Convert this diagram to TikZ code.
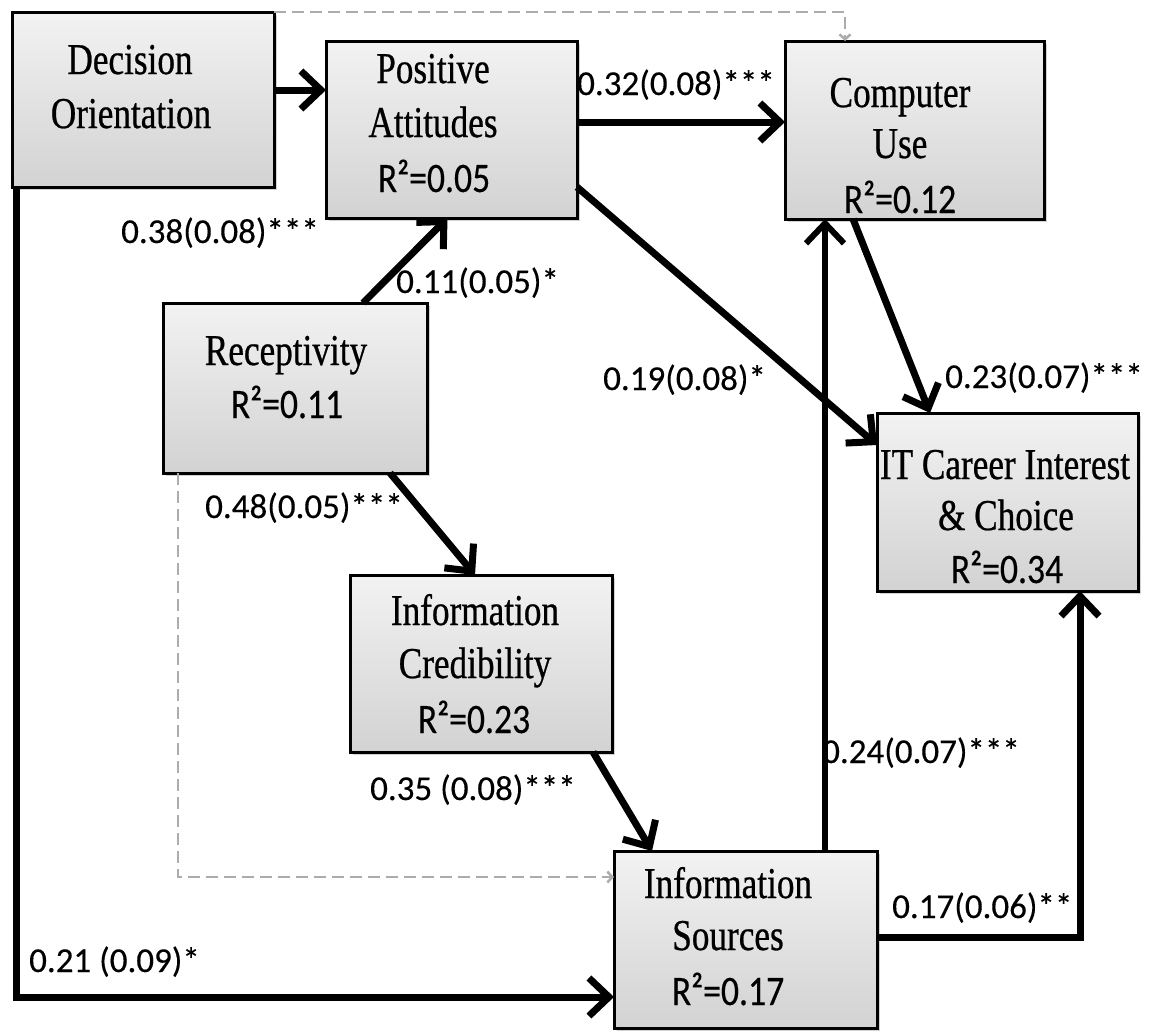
\documentclass[tikz,border=0pt]{standalone}
\usepackage{fontspec}
\newfontfamily\boxfont[FakeStretch=0.8,FakeBold=0.6]{Liberation Serif}
\newfontfamily\rsqfont[FakeStretch=0.85,FakeBold=0.3]{Carlito}
\newfontfamily\labfont[FakeBold=0.3]{Carlito}
\usetikzlibrary{arrows.meta,shadows}
\begin{document}
\begin{tikzpicture}[x=1pt,y=-1pt,
  box/.style={draw=black, line width=3pt, top color=gray!10, bottom color=gray!35,
    drop shadow={shadow xshift=3pt,shadow yshift=-3pt,opacity=0.35},
    inner sep=0pt, outer sep=0pt},
  ttl/.style={font=\boxfont\fontsize{44}{53}\selectfont, inner sep=0pt, anchor=base},
  rsq/.style={font=\rsqfont\fontsize{42}{50}\selectfont, inner sep=0pt, anchor=base},
  lab/.style={font=\labfont\fontsize{35}{42}\selectfont, inner sep=0pt, anchor=base west},
  arr/.style={line width=7pt, -{Straight Barb[length=20pt,width=38pt]}},
  darr/.style={draw=gray!65, line width=2.5pt, dash pattern=on 12pt off 6pt,
    -{Straight Barb[length=5pt,width=11pt]}}
]
\fill[white] (0,0) rectangle (1151,1034);
\useasboundingbox (0,0) rectangle (1151,1034);

% boxes
\node[box, minimum width=262pt, minimum height=175pt] (do) at (143,99.5) {};
\node[box, minimum width=251pt, minimum height=177pt] (pa) at (451.5,129.5) {};
\node[box, minimum width=259pt, minimum height=178pt] (cu) at (914.5,130) {};
\node[box, minimum width=261pt, minimum height=178pt] (it) at (1007.5,502) {};
\node[box, minimum width=264pt, minimum height=170pt] (re) at (295,388) {};
\node[box, minimum width=262pt, minimum height=177pt] (ic) at (481,663.5) {};
\node[box, minimum width=263pt, minimum height=177pt] (is) at (745.5,939.5) {};

% connectors
\draw[arr] ([yshift=9.5pt]do.east) coordinate (a1) -- (a1 -| pa.west);
\draw[arr] ([yshift=7.5pt]pa.east) coordinate (a2) -- (a2 -| cu.west);
\draw[darr] (do.north east) -| ([xshift=-69.5pt]cu.north);
\draw[arr] ([xshift=68pt]re.north) -- ([xshift=-4pt]pa.south);
\draw[arr] ([yshift=-57.5pt]pa.east) -- ([yshift=57pt]it.west);
\draw[arr] ([xshift=-61.5pt]cu.south) -- ([xshift=-77.5pt]it.north);
\draw[arr, line width=6pt] ([xshift=79.5pt]is.north) coordinate (a7) -- (a7 |- cu.south);
\draw[arr] ([xshift=95pt]re.south) -- ([xshift=-6pt]ic.north);
\draw[arr] ([xshift=112pt]ic.south) -- ([xshift=-93.5pt]is.north);
\draw[arr] ([yshift=2.5pt]is.east) -| ([xshift=72.5pt]it.south);
\draw[arr] ([xshift=4pt]do.south west) |- ([yshift=-57.5pt]is.west);
\draw[darr] ([xshift=15pt]re.south west) |- ([yshift=62.5pt]is.west);

% box texts
\node[ttl] (do1) at (130,74) {Decision};
\node[ttl] (do2) at (131,128) {Orientation};
\node[ttl] (pa1) at (433,83) {Positive};
\node[ttl] (pa2) at (433,137) {Attitudes};
\node[rsq] (pa3) at (434,192) {R²=0.05};
\node[ttl] (cu1) at (900,107) {Computer};
\node[ttl] (cu2) at (900,158) {Use};
\node[rsq] (cu3) at (900,213) {R²=0.12};
\node[ttl] (it1) at (1005,479) {IT Career Interest};
\node[ttl] (it2) at (1006,530) {\& Choice};
\node[rsq] (it3) at (1007,583) {R²=0.34};
\node[ttl] (re1) at (286,365) {Receptivity};
\node[rsq] (re2) at (287,418) {R²=0.11};
\node[ttl] (ic1) at (475,625) {Information};
\node[ttl] (ic2) at (475,678) {Credibility};
\node[rsq] (ic3) at (474,733) {R²=0.23};
\node[ttl] (is1) at (728,898) {Information};
\node[ttl] (is2) at (728,950) {Sources};
\node[rsq] (is3) at (728,1005) {R²=0.17};

% path labels
\node[lab] (l1) at (577,95) {0.32(0.08)***};
\node[lab] (l2) at (121,243) {0.38(0.08)***};
\node[lab] (l3) at (396,293) {0.11(0.05)*};
\node[lab] (l4) at (603,390) {0.19(0.08)*};
\node[lab] (l5) at (945,388) {0.23(0.07)***};
\node[lab] (l6) at (205,518) {0.48(0.05)***};
\node[lab] (l7) at (370,800) {0.35 (0.08)***};
\node[lab] (l8) at (822,763) {0.24(0.07)***};
\node[lab] (l9) at (892,918) {0.17(0.06)**};
\node[lab] (l10) at (29,972) {0.21 (0.09)*};
\end{tikzpicture}
\end{document}
